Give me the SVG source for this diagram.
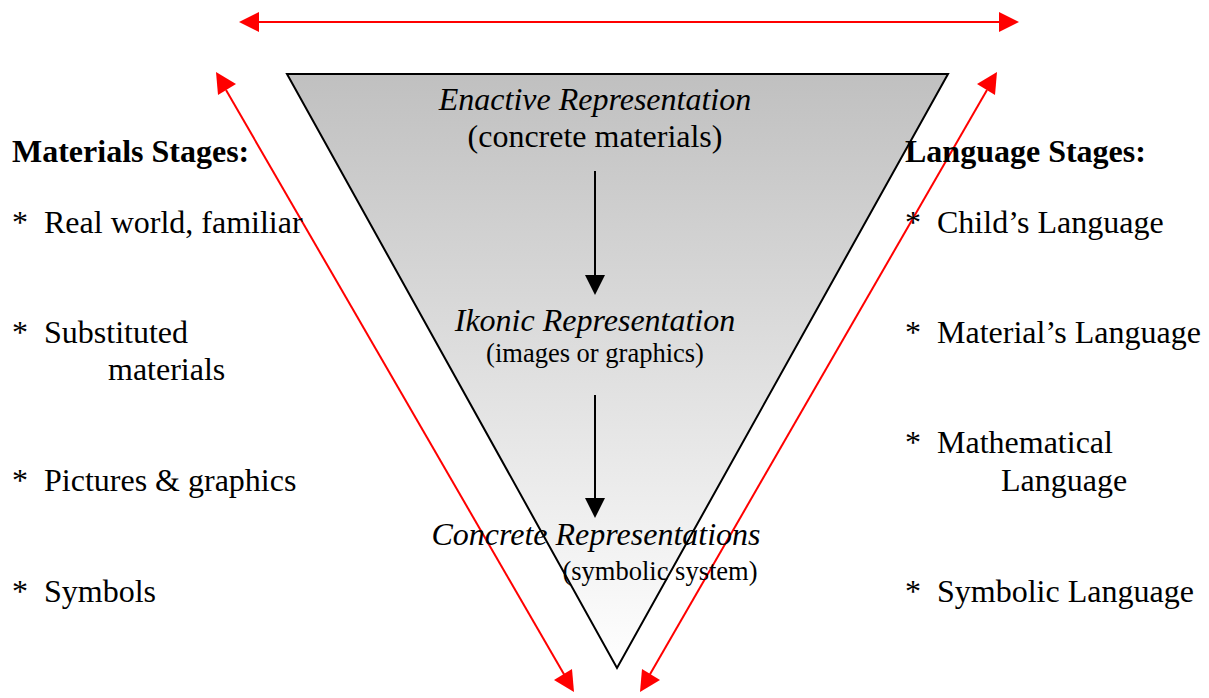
<svg xmlns="http://www.w3.org/2000/svg" width="1209" height="698" viewBox="0 0 1209 698">
<style>
text{font-family:"Liberation Serif","Times New Roman",serif;fill:#000}
.t{font-size:32px}
.i{font-size:32px;font-style:italic}
.s{font-size:26.5px}
.b{font-size:32px;font-weight:bold}
.red{stroke:#ff0000;stroke-width:2;fill:none}
.blk{stroke:#000;stroke-width:2;fill:none}
</style>
<defs>
<linearGradient id="g" x1="0" y1="0" x2="0" y2="1">
<stop offset="0" stop-color="#c0c0c0"/>
<stop offset="1" stop-color="#ffffff"/>
</linearGradient>
</defs>
<g id="triangle">
<polygon points="287,74 948,74 617,668" fill="url(#g)" stroke="#000" stroke-width="2"/>
</g>
<g id="connectors">
<line class="red" x1="259" y1="22" x2="999" y2="22"/>
<polygon points="239,22 259,12 259,32" fill="#ff0000"/>
<polygon points="1019,22 999,12 999,32" fill="#ff0000"/>
<line class="red" x1="226" y1="90" x2="565" y2="676"/>
<polygon points="216,72 236,84 218,95" fill="#ff0000"/>
<polygon points="574,692 554,680 572,669" fill="#ff0000"/>
<line class="red" x1="987" y1="90" x2="649" y2="676"/>
<polygon points="997,72 977,84 995,95" fill="#ff0000"/>
<polygon points="640,692 660,680 642,669" fill="#ff0000"/>
<line class="blk" x1="595" y1="171" x2="595" y2="277"/>
<polygon points="595,295 585,275 605,275" fill="#000"/>
<line class="blk" x1="595" y1="395" x2="595" y2="500"/>
<polygon points="595,518 585,498 605,498" fill="#000"/>
</g>
<g id="enactive">
<text class="i" x="595" y="110" text-anchor="middle">Enactive Representation</text>
<text class="t" x="595" y="147" text-anchor="middle">(concrete materials)</text>
</g>
<g id="ikonic">
<text class="i" x="595" y="331" text-anchor="middle">Ikonic Representation</text>
<text class="s" x="595" y="362" text-anchor="middle">(images or graphics)</text>
</g>
<g id="concrete">
<text class="i" x="596" y="545" text-anchor="middle">Concrete Representations</text>
<text class="s" x="660" y="580" text-anchor="middle">(symbolic system)</text>
</g>
<g id="materials">
<text class="b" x="12" y="162">Materials Stages:</text>
<text class="t" x="12" y="233">*</text><text class="t" x="44" y="233">Real world, familiar</text>
<text class="t" x="12" y="343">*</text><text class="t" x="44" y="343">Substituted</text>
<text class="t" x="108" y="380">materials</text>
<text class="t" x="12" y="491">*</text><text class="t" x="44" y="491">Pictures &amp; graphics</text>
<text class="t" x="12" y="602">*</text><text class="t" x="44" y="602">Symbols</text>
</g>
<g id="language">
<text class="b" x="905" y="162">Language Stages:</text>
<text class="t" x="905" y="233">*</text><text class="t" x="937" y="233">Child’s Language</text>
<text class="t" x="905" y="343">*</text><text class="t" x="937" y="343">Material’s Language</text>
<text class="t" x="905" y="453">*</text><text class="t" x="937" y="453">Mathematical</text>
<text class="t" x="1001" y="491">Language</text>
<text class="t" x="905" y="602">*</text><text class="t" x="937" y="602">Symbolic Language</text>
</g>
</svg>
